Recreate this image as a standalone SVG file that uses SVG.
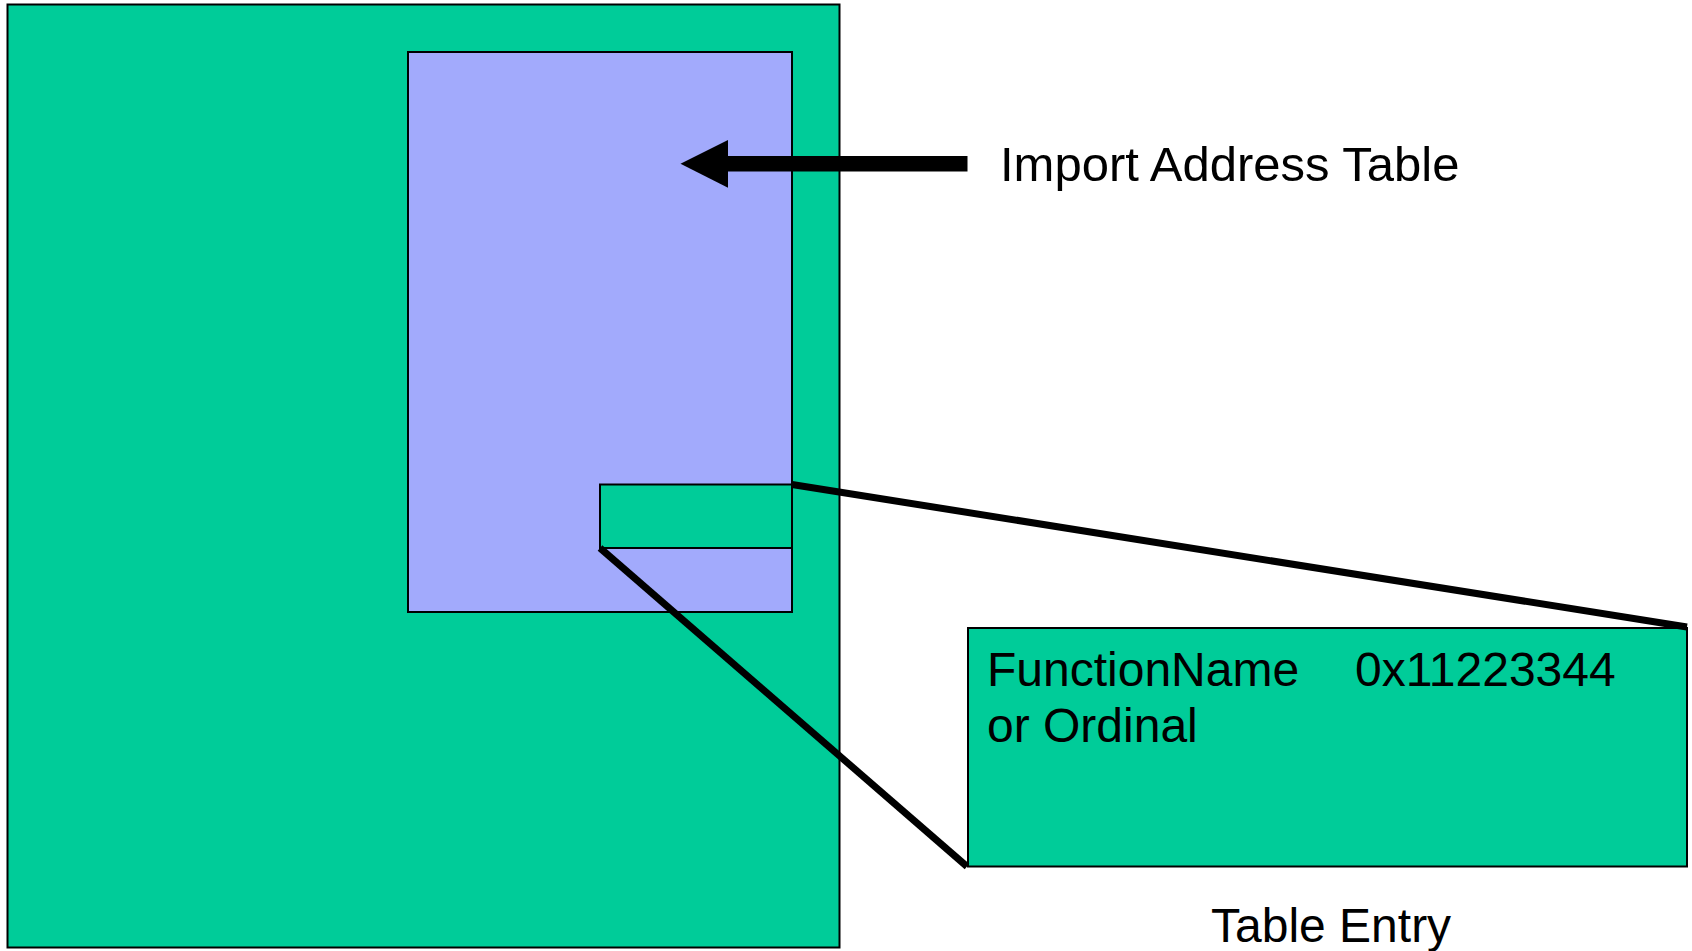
<svg xmlns="http://www.w3.org/2000/svg" width="1692" height="951" viewBox="0 0 1692 951">
  <style>
    .box { stroke: #000; stroke-width: 2; }
    .green { fill: #00CC99; }
    .blue { fill: #A2AAFC; }
    .lbl { font-family: "Liberation Sans", Arial, sans-serif; font-size: 48px; fill: #000; }
    .zoom { stroke: #000; stroke-width: 7; fill: none; }
  </style>

  <!-- PE image -->
  <g id="image">
    <rect class="box green" x="7.5" y="4.5" width="832" height="943"/>
  </g>

  <!-- Import Address Table region -->
  <g id="iat">
    <rect class="box blue" x="408" y="52" width="384" height="560"/>
  </g>

  <!-- Single entry inside the table -->
  <g id="entry">
    <rect class="box green" x="600" y="484.5" width="192" height="63.5"/>
  </g>

  <!-- Magnified entry -->
  <g id="table-entry">
    <rect class="box green" x="968" y="628" width="719" height="238.5"/>
    <text class="lbl" x="987" y="686">FunctionName</text>
    <text class="lbl" x="1355" y="686">0x11223344</text>
    <text class="lbl" x="987" y="742">or Ordinal</text>
  </g>

  <g id="caption-entry">
    <text class="lbl" x="1211" y="942">Table Entry</text>
  </g>

  <g id="caption-iat">
    <text class="lbl" x="1000" y="181" style="font-size:49px">Import Address Table</text>
  </g>

  <!-- Connectors -->
  <g id="connectors">
    <line class="zoom" x1="792" y1="484.5" x2="1687" y2="627"/>
    <line class="zoom" x1="600" y1="548" x2="967" y2="866.5"/>
    <rect x="726" y="156" width="241.5" height="15.5" fill="#000"/>
    <polygon points="680.5,163.8 728,140 728,187.7" fill="#000"/>
  </g>
</svg>
